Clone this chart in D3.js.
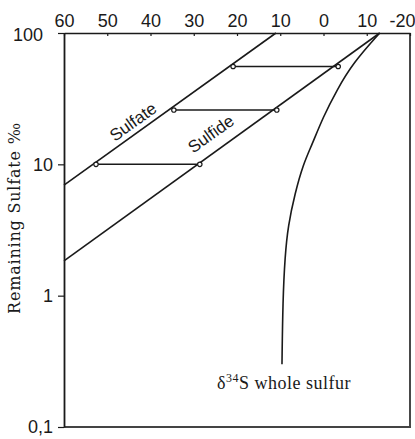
<!DOCTYPE html>
<html><head><meta charset="utf-8">
<script src="https://cdn.jsdelivr.net/npm/d3@7"></script>
<style>
html,body{margin:0;padding:0;background:#fff;}
svg{display:block;}
</style></head>
<body>
<script>
// ---- data ----
const xTicks = [60, 50, 40, 30, 20, 10, 0, -10, -20];
const xTickLabels = ["60", "50", "40", "30", "20", "10", "0", "10", "-20"];
const yTicks = [100, 10, 1, 0.1];
const yTickLabels = ["100", "10", "1", "0,1"];
const sulfateLine = [[60, 6.95], [11, 100]];
const sulfideLine = [[60, 1.84], [-13, 100]];
const wholeSulfur = [[-13, 100], [-6.8, 59], [-3.1, 36.8], [0.1, 22.9], [2.7, 14.0], [4.7, 10.0], [6.6, 6.0], [8.2, 3.4], [8.9, 2.0], [9.4, 0.93], [9.6, 0.3]];
const tieLevels = [10, 25.9, 55.6];
const sulfatePoints = [52.6, 34.6, 20.9];
const sulfidePoints = [28.6, 10.8, -3.4];
const labels = [
  {text: "Sulfate", x: 44.0, y: 21.0},
  {text: "Sulfide", x: 26.0, y: 17.0}
];

const W = 415, H = 439;
const m = {top: 33, left: 64, right: 5, bottom: 12};
const svg = d3.select("body").append("svg").attr("width", W).attr("height", H);

const x = d3.scaleLinear().domain([60, -20]).range([m.left, W - m.right]);
const y = d3.scaleLog().domain([0.1, 100]).range([H - m.bottom, m.top]);
const ink = "#1a1a1a";

// frame: right & bottom
svg.append("line").attr("x1", x(-20)).attr("x2", x(-20)).attr("y1", y(100)).attr("y2", y(0.1))
  .attr("stroke", ink).attr("stroke-width", 1.6);
svg.append("line").attr("x1", x(60)).attr("x2", x(-20) + 1).attr("y1", y(0.1)).attr("y2", y(0.1))
  .attr("stroke", "#444").attr("stroke-width", 2);

// top axis
const xAxis = d3.axisTop(x).tickValues(xTicks).tickSizeInner(-3).tickSizeOuter(0)
  .tickPadding(6).tickFormat((d, i) => xTickLabels[i]);
const gx = svg.append("g").attr("transform", `translate(0,${y(100)})`).call(xAxis);
gx.select(".domain").attr("stroke", ink).attr("stroke-width", 1.4);
gx.selectAll(".tick line").attr("stroke", ink).attr("stroke-width", 1.2);
gx.selectAll(".tick text").attr("font-family", "Liberation Sans, Arial, sans-serif")
  .attr("font-size", 18).attr("fill", ink);
gx.selectAll(".tick text").filter((d) => d === -20).attr("text-anchor", "end").attr("dx", 5);

// left axis
const yAxis = d3.axisLeft(y).tickValues(yTicks).tickSizeInner(6).tickSizeOuter(0)
  .tickPadding(5).tickFormat((d, i) => yTickLabels[i]);
const gy = svg.append("g").attr("transform", `translate(${x(60)},0)`).call(yAxis);
gy.select(".domain").attr("stroke", ink).attr("stroke-width", 1.8);
gy.selectAll(".tick line").attr("stroke", ink).attr("stroke-width", 1.2);
gy.selectAll(".tick text").attr("font-family", "Liberation Sans, Arial, sans-serif")
  .attr("font-size", 18).attr("fill", ink);
gy.selectAll(".tick text").filter((d) => d === 100).attr("dx", -10).attr("dy", "0.4em");

// y title
svg.append("text").attr("transform", `translate(20,${218}) rotate(-90)`)
  .attr("text-anchor", "middle").attr("font-family", "DejaVu Serif, serif")
  .attr("font-size", 16).attr("letter-spacing", 0.8).attr("fill", ink).text("Remaining Sulfate ‰");

const line = d3.line().x(d => x(d[0])).y(d => y(d[1]));
svg.append("path").attr("d", line(sulfateLine)).attr("fill", "none").attr("stroke", ink).attr("stroke-width", 1.6);
svg.append("path").attr("d", line(sulfideLine)).attr("fill", "none").attr("stroke", ink).attr("stroke-width", 1.6);
svg.append("path").attr("d", d3.line().x(d => x(d[0])).y(d => y(d[1])).curve(d3.curveBasis)(wholeSulfur))
  .attr("fill", "none").attr("stroke", ink).attr("stroke-width", 1.6);

// tie lines
tieLevels.forEach((f, i) => {
  svg.append("line").attr("x1", x(sulfatePoints[i])).attr("x2", x(sulfidePoints[i]))
    .attr("y1", y(f)).attr("y2", y(f)).attr("stroke", ink).attr("stroke-width", 1.5);
});
tieLevels.forEach((f, i) => {
  [sulfatePoints[i], sulfidePoints[i]].forEach(v => {
    svg.append("circle").attr("cx", x(v)).attr("cy", y(f)).attr("r", 2.2)
      .attr("fill", "#fff").attr("stroke", ink).attr("stroke-width", 1.2);
  });
});

// line labels
const ang = Math.atan2(y(sulfateLine[1][1]) - y(sulfateLine[0][1]), x(sulfateLine[1][0]) - x(sulfateLine[0][0])) * 180 / Math.PI;
labels.forEach(l => {
  svg.append("text").attr("transform", `translate(${x(l.x)},${y(l.y)}) rotate(${ang})`)
    .attr("text-anchor", "middle").attr("dominant-baseline", "central")
    .attr("font-family", "Liberation Sans, Arial, sans-serif").attr("font-size", 17)
    .attr("fill", ink).text(l.text);
});

// whole sulfur label
const t = svg.append("text").attr("x", 217).attr("y", 389)
  .attr("font-family", "Liberation Serif, Times New Roman, serif").attr("font-size", 18)
  .attr("letter-spacing", 0.5).attr("fill", ink);
t.append("tspan").text("δ");
t.append("tspan").attr("font-size", 12).attr("dy", -7).text("34");
t.append("tspan").attr("dy", 7).text("S whole  sulfur");
</script>
</body></html>
